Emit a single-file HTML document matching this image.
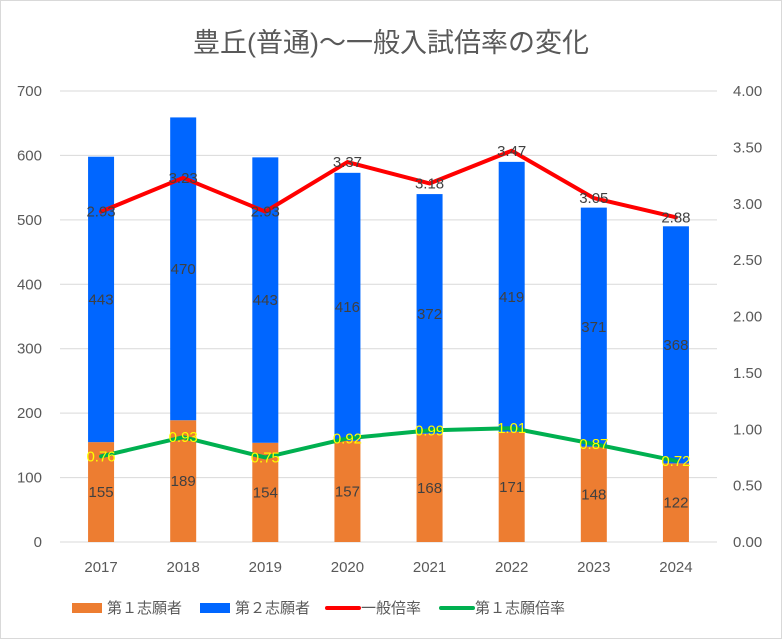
<!DOCTYPE html>
<html><head><meta charset="utf-8"><style>
html,body{margin:0;padding:0;background:#fff}
svg{display:block;font-family:"Liberation Sans","Noto Sans CJK JP",sans-serif}
</style></head><body>
<svg id="chart" width="782" height="639" viewBox="0 0 782 639" xmlns="http://www.w3.org/2000/svg">
<rect x="0.5" y="0.5" width="781" height="638" fill="#fff" stroke="#d9d9d9"/>
<text x="391" y="52" text-anchor="middle" font-size="27" fill="#595959">豊丘(普通)～一般入試倍率の変化</text>
<g id="grid"></g><g id="bars"></g><g id="lines"></g><g id="labels"></g><g id="axes"></g>
<g id="legend">
<rect x="72" y="603" width="30" height="10" fill="#ed7d31"/>
<text x="107" y="613" font-size="15" fill="#595959">第１志願者</text>
<rect x="200" y="603" width="30" height="10" fill="#0066ff"/>
<text x="235" y="613" font-size="15" fill="#595959">第２志願者</text>
<line x1="327" y1="608" x2="359" y2="608" stroke="#ff0000" stroke-width="4" stroke-linecap="round"/>
<text x="361" y="613" font-size="15" fill="#595959">一般倍率</text>
<line x1="441" y1="608" x2="473" y2="608" stroke="#00b050" stroke-width="4" stroke-linecap="round"/>
<text x="475" y="613" font-size="15" fill="#595959">第１志願倍率</text>
</g>
</svg>
<script>
const years = ["2017","2018","2019","2020","2021","2022","2023","2024"];
const firstChoice = [155,189,154,157,168,171,148,122];
const secondChoice = [443,470,443,416,372,419,371,368];
const generalRatio = [2.93,3.23,2.93,3.37,3.18,3.47,3.05,2.88];
const firstRatio = [0.76,0.93,0.75,0.92,0.99,1.01,0.87,0.72];
const leftTicks = [0,100,200,300,400,500,600,700];
const rightTicks = [0,0.5,1,1.5,2,2.5,3,3.5,4];

const NS="http://www.w3.org/2000/svg";
const plotL=60, plotR=717, y0=542, yTop=91;
const yL=v=>y0-(v/700)*(y0-yTop);
const yR=v=>y0-(v/4)*(y0-yTop);
const step=(plotR-plotL)/years.length;
const xC=i=>plotL+step*(i+0.5);
const bw=26;
function mk(tag,attrs,parent,txt){const e=document.createElementNS(NS,tag);for(const k in attrs)e.setAttribute(k,attrs[k]);if(txt!==undefined)e.textContent=txt;document.getElementById(parent).appendChild(e);return e;}

leftTicks.forEach(t=>{
  const g=mk('line',{x1:plotL,x2:plotR,y1:yL(t),y2:yL(t),stroke:'#d9d9d9','stroke-width':1},'grid');
  
  
  const l=mk('text',{x:42,y:yL(t)+5,'text-anchor':'end','font-size':15,fill:'#595959'},'axes',String(t));
  
  
});
rightTicks.forEach(t=>{
  const l=mk('text',{x:733,y:yR(t)+5,'font-size':15,fill:'#595959'},'axes',t.toFixed(2));
  
  
});
years.forEach((yr,i)=>{
  const l=mk('text',{x:xC(i),y:572,'text-anchor':'middle','font-size':15,fill:'#595959'},'axes',yr);
  
  
  const b1=mk('rect',{x:xC(i)-bw/2,y:yL(firstChoice[i]),width:bw,height:y0-yL(firstChoice[i]),fill:'#ed7d31'},'bars');
  
  
  const top=firstChoice[i]+secondChoice[i];
  const b2=mk('rect',{x:xC(i)-bw/2,y:yL(top),width:bw,height:yL(firstChoice[i])-yL(top),fill:'#0066ff'},'bars');
  
  
  const t1=mk('text',{x:xC(i),y:yL(firstChoice[i]/2)+5,'text-anchor':'middle','font-size':15,fill:'#404040'},'labels',String(firstChoice[i]));
  
  
  const t2=mk('text',{x:xC(i),y:yL(firstChoice[i]+secondChoice[i]/2)+5,'text-anchor':'middle','font-size':15,fill:'#404040'},'labels',String(secondChoice[i]));
  
  
  const t3=mk('text',{x:xC(i),y:yR(generalRatio[i])+5,'text-anchor':'middle','font-size':15,fill:'#404040'},'labels',generalRatio[i].toFixed(2));
  
  
  const t4=mk('text',{x:xC(i),y:yR(firstRatio[i])+5,'text-anchor':'middle','font-size':15,fill:'#ffff00'},'labels',firstRatio[i].toFixed(2));
  
  
});
const pl=(arr)=>arr.map((v,i)=>xC(i)+','+yR(v)).join(' ');
const r=mk('polyline',{points:pl(generalRatio),fill:'none',stroke:'#ff0000','stroke-width':4,'stroke-linejoin':'round','stroke-linecap':'round'},'lines');


const g=mk('polyline',{points:pl(firstRatio),fill:'none',stroke:'#00b050','stroke-width':4,'stroke-linejoin':'round','stroke-linecap':'round'},'lines');


</script>
</body></html>
